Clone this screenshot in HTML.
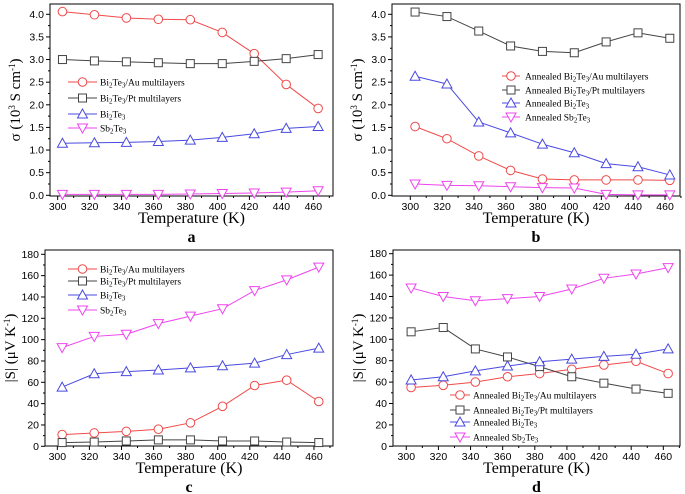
<!DOCTYPE html>
<html><head><meta charset="utf-8"><style>
body{margin:0;background:#fff;}
svg{display:block;font-family:"Liberation Serif",serif;}
</style></head><body>
<svg id="fig" width="685" height="494" viewBox="0 0 685 494"></svg>
<script>
const temps=[303,323,343,363,383,403,423,443,463];
const aAu=[4.06,3.99,3.92,3.89,3.88,3.60,3.13,2.45,1.92];
const aPt=[3.0,2.97,2.95,2.93,2.91,2.91,2.96,3.02,3.11];
const aBi=[1.15,1.16,1.17,1.19,1.22,1.28,1.36,1.48,1.52];
const aSb=[0.02,0.02,0.02,0.02,0.03,0.04,0.05,0.07,0.10];
const bAu=[1.52,1.25,0.87,0.55,0.36,0.34,0.34,0.34,0.33];
const bPt=[4.05,3.95,3.63,3.30,3.18,3.15,3.39,3.59,3.47];
const bBi=[2.63,2.46,1.62,1.38,1.13,0.94,0.70,0.63,0.45];
const bSb=[0.25,0.22,0.21,0.19,0.17,0.16,0.02,0.01,0.01];
const cAu=[11,12.5,14,16,22,37.5,57,62,42];
const cPt=[3.5,4,5,6,6,5,5,4,3.5];
const cBi=[55.5,68,70,71.5,73.5,75.5,78,86,92];
const cSb=[92.5,103,105,115,122,129,146,156,168];
const dAu=[55,57,60,65,68,72,76,79.5,68];
const dPt=[107,111,91,83.5,74.5,65,59,53.5,49.5];
const dBi=[62,65,70.5,75,79,81.5,84,86,91];
const dSb=[148,140,136,138,140,147,157,161,167];
const xTicks=[300,320,340,360,380,400,420,440,460];
const sigTicks=["0.0","0.5","1.0","1.5","2.0","2.5","3.0","3.5","4.0"];
const sTicks=[0,20,40,60,80,100,120,140,160,180];

const NS="http://www.w3.org/2000/svg";
const svg=document.getElementById('fig');
function mk(tag,attrs,parent){const e=document.createElementNS(NS,tag);for(const k in attrs)e.setAttribute(k,attrs[k]);(parent||svg).appendChild(e);return e;}
const COL={Au:"#f04a4a",Pt:"#444",Bi:"#4a4ae0",Sb:"#ee44ee"};
const SHP={Au:"circle",Pt:"square",Bi:"up",Sb:"down"};
function marker(g,shape,x,y,c){
  let e;
  if(shape==="circle")e=mk('circle',{cx:x,cy:y,r:4.3,fill:"#fff",stroke:c,'stroke-width':1},g);
  else if(shape==="square")e=mk('rect',{x:x-4,y:y-4,width:8,height:8,fill:"#fff",stroke:c,'stroke-width':1},g);
  else if(shape==="up")e=mk('polygon',{points:`${x},${y-5} ${x-5},${y+4} ${x+5},${y+4}`,fill:"#fff",stroke:c,'stroke-width':1},g);
  else e=mk('polygon',{points:`${x},${y+5} ${x-5},${y-4} ${x+5},${y-4}`,fill:"#fff",stroke:c,'stroke-width':1},g);
  
  
}
function panel(p){
  const g=mk('g',{});
  
  
  const xs=t=>p.L+(t-p.x0)/(p.x1-p.x0)*(p.R-p.L);
  const ys=v=>p.y0px+(v-0)/(p.ymax)*(p.ytopTickPx-p.y0px);
  xTicks.forEach(t=>{const x=xs(t);
    mk('line',{x1:x,y1:p.B,x2:x,y2:p.B+4,stroke:"#000"},g);
    mk('line',{x1:xs(t+10),y1:p.B,x2:xs(t+10),y2:p.B+2,stroke:"#000"},g);
    const tx=mk('text',{x:x,y:p.B+14,'text-anchor':'middle','font-size':10.5,'font-family':'Liberation Sans, sans-serif'},g);tx.textContent=t;
    });
  p.ticks.forEach((lab,i)=>{const v=parseFloat(lab);const y=ys(v);
    mk('line',{x1:p.L-4,y1:y,x2:p.L,y2:y,stroke:"#000"},g);
    if(i<p.ticks.length-1){const y2=ys(v+p.step/2);mk('line',{x1:p.L-2,y1:y2,x2:p.L,y2:y2,stroke:"#000"},g);}
    const tx=mk('text',{x:p.L-6,y:y+3.5,'text-anchor':'end','font-size':10.5,'font-family':'Liberation Sans, sans-serif'},g);tx.textContent=lab;
    });
  mk('rect',{x:p.L,y:p.T,width:p.R-p.L,height:p.B-p.T,fill:"none",stroke:"#000",'stroke-width':1},g);
  p.series.forEach(s=>{
    const pts=s.v.map((v,i)=>xs(temps[i])+","+ys(v)).join(" ");
    const pl=mk('polyline',{points:pts,fill:"none",stroke:COL[s.k],'stroke-width':1},g);
    
    
    s.v.forEach((v,i)=>marker(g,SHP[s.k],xs(temps[i]),ys(v),COL[s.k]));
  });
  const lg=mk('g',{},g);
  
  
  p.series.forEach((s,i)=>{
    const y=p.leg.ys[i];
    mk('line',{x1:p.leg.x1,y1:y,x2:p.leg.x2,y2:y,stroke:COL[s.k]},lg);
    marker(lg,SHP[s.k],(p.leg.x1+p.leg.x2)/2,y,COL[s.k]);
    const t=mk('text',{x:p.leg.tx,y:y+3.5,'font-size':9.5},lg);
    t.innerHTML=s.label;
    
    
  });
  const xt=mk('text',{x:(p.L+p.R)/2,y:p.B+27,'text-anchor':'middle','font-size':16},g);xt.textContent="Temperature (K)";
  
  const yt=mk('text',{x:0,y:0,'text-anchor':'middle','font-size':15,transform:`translate(${p.L-30},${(p.T+p.B)/2}) rotate(-90)`},g);
  yt.innerHTML=p.ytitle;
  
  const pl=mk('text',{x:(p.L+p.R)/2,y:p.B+46,'text-anchor':'middle','font-size':16,'font-weight':'bold'},g);pl.textContent=p.id;
  
}
const sub=(a,b)=>`${a}<tspan font-size="7" dy="2">2</tspan><tspan dy="-2">Te</tspan><tspan font-size="7" dy="2">3</tspan><tspan dy="-2">${b}</tspan>`;
const sigT=`σ (10<tspan font-size="9" dy="-5">3</tspan><tspan dy="5"> S cm</tspan><tspan font-size="9" dy="-5">-1</tspan><tspan dy="5">)</tspan>`;
const sT=`|S| (μV K<tspan font-size="9" dy="-5">-1</tspan><tspan dy="5">)</tspan>`;
panel({id:"a",L:50,R:333,T:4,B:196,x0:295.2,x1:472.3,y0px:195.3,ytopTickPx:14.3,ymax:4.0,step:0.5,ticks:sigTicks,ytitle:sigT,
  series:[{k:"Au",v:aAu,label:sub("Bi","/Au multilayers")},{k:"Pt",v:aPt,label:sub("Bi","/Pt multilayers")},{k:"Bi",v:aBi,label:sub("Bi","")},{k:"Sb",v:aSb,label:sub("Sb","")}],
  leg:{x1:68,x2:97,tx:100,ys:[82,98,114,128]}});
panel({id:"b",L:392,R:680,T:4,B:196,x0:288.5,x1:469.4,y0px:195.3,ytopTickPx:14.3,ymax:4.0,step:0.5,ticks:sigTicks,ytitle:sigT,
  series:[{k:"Au",v:bAu,label:sub("Annealed Bi","/Au multilayers")},{k:"Pt",v:bPt,label:sub("Annealed Bi","/Pt multilayers")},{k:"Bi",v:bBi,label:sub("Annealed Bi","")},{k:"Sb",v:bSb,label:sub("Annealed Sb","")}],
  leg:{x1:502,x2:520,tx:525,ys:[76,90,103,117]}});
panel({id:"c",L:45,R:333,T:250,B:446,x0:(300-12.3/1.6),x1:(460+19/1.6),y0px:446.3,ytopTickPx:254.3,ymax:180,step:20,ticks:sTicks.map(String),ytitle:sT,
  series:[{k:"Au",v:cAu,label:sub("Bi","/Au multilayers")},{k:"Pt",v:cPt,label:sub("Bi","/Pt multilayers")},{k:"Bi",v:cBi,label:sub("Bi","")},{k:"Sb",v:cSb,label:sub("Sb","")}],
  leg:{x1:68,x2:97,tx:100,ys:[269,281,295,310]}});
panel({id:"d",L:393,R:680,T:250,B:446,x0:(300-13.3/1.608),x1:(460+16.7/1.608),y0px:446.3,ytopTickPx:253.7,ymax:180,step:20,ticks:sTicks.map(String),ytitle:sT,
  series:[{k:"Au",v:dAu,label:sub("Annealed Bi","/Au multilayers")},{k:"Pt",v:dPt,label:sub("Annealed Bi","/Pt multilayers")},{k:"Bi",v:dBi,label:sub("Annealed Bi","")},{k:"Sb",v:dSb,label:sub("Annealed Sb","")}],
  leg:{x1:450,x2:470,tx:473,ys:[395,410,422,437]}});
</script>
</body></html>
